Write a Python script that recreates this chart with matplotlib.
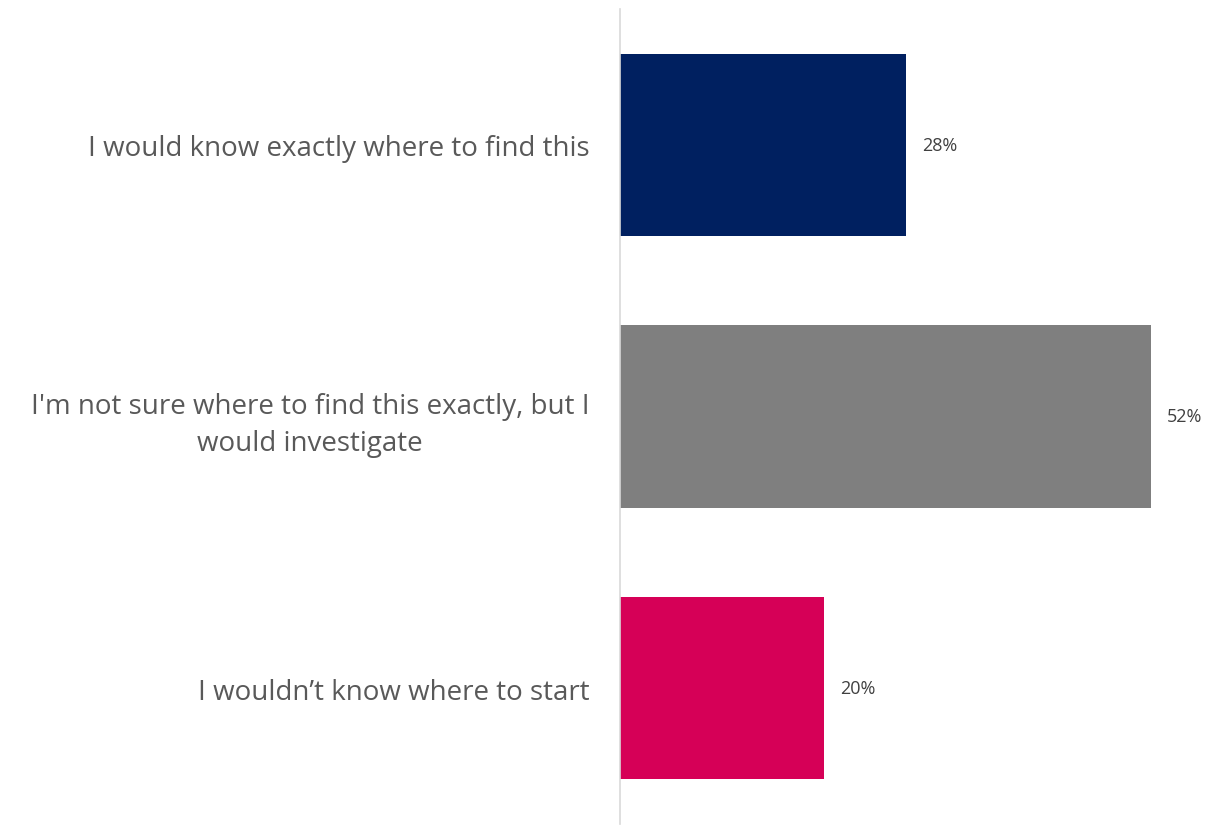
import matplotlib
matplotlib.use("Agg")
import matplotlib.pyplot as plt

# data
categories = [
    "I would know exactly where to find this",
    "I'm not sure where to find this exactly, but I\nwould investigate",
    "I wouldn\u2019t know where to start",
]
values = [28, 52, 20]
colors = ["#002060", "#7F7F7F", "#D60057"]

plt.rcParams['font.family'] = ['Open Sans', 'DejaVu Sans']

fig = plt.figure(figsize=(12.16, 8.29), dpi=100)
ax = fig.add_axes([620/1216, 1 - 825/829, 596/1216, 815/829])

y = list(range(len(categories)))
ax.barh(y, values, height=0.67, color=colors)

for yi, v in zip(y, values):
    ax.annotate(f"{v}%", xy=(v, yi), xytext=(16, 0), textcoords="offset pixels",
                va="center", ha="left", fontsize=13, color="#404040")

ax.set_ylim(2.5, -0.5)
ax.set_xlim(0, 58.4)
ax.set_yticks(y)
ax.set_yticklabels(categories, fontsize=20, color="#595959",
                   multialignment="center", linespacing=1.45)
ax.tick_params(axis="y", length=0, pad=22)
ax.set_xticks([])

for s in ["top", "right", "bottom"]:
    ax.spines[s].set_visible(False)
ax.spines["left"].set_color("#D9D9D9")
ax.spines["left"].set_linewidth(1.2)

fig.savefig("out.png", dpi=100)
